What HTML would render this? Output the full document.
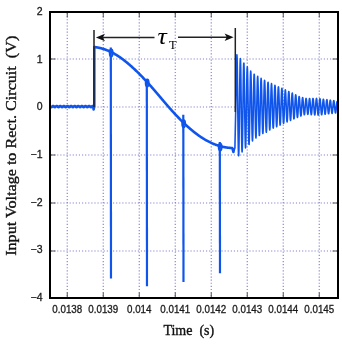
<!DOCTYPE html>
<html><head><meta charset="utf-8"><style>
html,body{margin:0;padding:0;background:#fff;}
svg{display:block;will-change:transform;}
.g{stroke:#8282cf;stroke-width:1.15;stroke-dasharray:1.15 1.95;}
.t{stroke:#555;stroke-width:1;}
.w{fill:none;stroke:#0f55ec;stroke-width:2.6;stroke-linejoin:round;}
.r{fill:none;stroke:#0f55ec;stroke-width:1.6;stroke-linejoin:round;}
.s{stroke:#0f55ec;stroke-width:2.2;}
.e{fill:none;stroke:#0f55ec;stroke-width:1.7;}
.k{stroke:#222;stroke-width:1.5;}
.tau{font-family:"Liberation Serif",serif;font-style:italic;font-size:23.5px;fill:#000;}
.sub{font-family:"Liberation Serif",serif;font-size:12.5px;fill:#000;}
.yl{font-family:"Liberation Sans",sans-serif;font-size:10.5px;text-anchor:end;fill:#1a1a1a;stroke:#1a1a1a;stroke-width:0.3px;}
.xl{font-family:"Liberation Sans",sans-serif;font-size:10.3px;text-anchor:middle;fill:#1a1a1a;stroke:#1a1a1a;stroke-width:0.3px;}
.yt{font-size:14.5px !important;}
.at{font-family:"Liberation Serif",serif;font-size:14px;fill:#111;stroke:#111;stroke-width:0.35px;}
</style></head><body>
<svg width="342" height="344" viewBox="0 0 342 344">
<line x1="67.25" y1="13" x2="67.25" y2="297" class="g"/>
<line x1="103.25" y1="13" x2="103.25" y2="297" class="g"/>
<line x1="139.25" y1="13" x2="139.25" y2="297" class="g"/>
<line x1="175.25" y1="13" x2="175.25" y2="297" class="g"/>
<line x1="211.25" y1="13" x2="211.25" y2="297" class="g"/>
<line x1="247.25" y1="13" x2="247.25" y2="297" class="g"/>
<line x1="283.25" y1="13" x2="283.25" y2="297" class="g"/>
<line x1="319.25" y1="13" x2="319.25" y2="297" class="g"/>
<line x1="51" y1="59.0" x2="337" y2="59.0" class="g"/>
<line x1="51" y1="107.0" x2="337" y2="107.0" class="g"/>
<line x1="51" y1="155.0" x2="337" y2="155.0" class="g"/>
<line x1="51" y1="203.0" x2="337" y2="203.0" class="g"/>
<line x1="51" y1="251.0" x2="337" y2="251.0" class="g"/>
<line x1="67.25" y1="297" x2="67.25" y2="292.5" class="t"/>
<line x1="67.25" y1="13" x2="67.25" y2="17.5" class="t"/>
<line x1="103.25" y1="297" x2="103.25" y2="292.5" class="t"/>
<line x1="103.25" y1="13" x2="103.25" y2="17.5" class="t"/>
<line x1="139.25" y1="297" x2="139.25" y2="292.5" class="t"/>
<line x1="139.25" y1="13" x2="139.25" y2="17.5" class="t"/>
<line x1="175.25" y1="297" x2="175.25" y2="292.5" class="t"/>
<line x1="175.25" y1="13" x2="175.25" y2="17.5" class="t"/>
<line x1="211.25" y1="297" x2="211.25" y2="292.5" class="t"/>
<line x1="211.25" y1="13" x2="211.25" y2="17.5" class="t"/>
<line x1="247.25" y1="297" x2="247.25" y2="292.5" class="t"/>
<line x1="247.25" y1="13" x2="247.25" y2="17.5" class="t"/>
<line x1="283.25" y1="297" x2="283.25" y2="292.5" class="t"/>
<line x1="283.25" y1="13" x2="283.25" y2="17.5" class="t"/>
<line x1="319.25" y1="297" x2="319.25" y2="292.5" class="t"/>
<line x1="319.25" y1="13" x2="319.25" y2="17.5" class="t"/>
<line x1="51" y1="59.0" x2="55.5" y2="59.0" class="t"/>
<line x1="337" y1="59.0" x2="332.5" y2="59.0" class="t"/>
<line x1="51" y1="107.0" x2="55.5" y2="107.0" class="t"/>
<line x1="337" y1="107.0" x2="332.5" y2="107.0" class="t"/>
<line x1="51" y1="155.0" x2="55.5" y2="155.0" class="t"/>
<line x1="337" y1="155.0" x2="332.5" y2="155.0" class="t"/>
<line x1="51" y1="203.0" x2="55.5" y2="203.0" class="t"/>
<line x1="337" y1="203.0" x2="332.5" y2="203.0" class="t"/>
<line x1="51" y1="251.0" x2="55.5" y2="251.0" class="t"/>
<line x1="337" y1="251.0" x2="332.5" y2="251.0" class="t"/>
<path d="M51 107.08 L51.3 107.15 L51.6 107.08 L51.9 106.88 L52.2 106.6 L52.5 106.33 L52.8 106.12 L53.1 106.05 L53.4 106.12 L53.7 106.32 L54 106.6 L54.3 106.87 L54.6 107.08 L54.9 107.15 L55.2 107.08 L55.5 106.88 L55.8 106.6 L56.1 106.33 L56.4 106.12 L56.7 106.05 L57 106.12 L57.3 106.32 L57.6 106.6 L57.9 106.87 L58.2 107.08 L58.5 107.15 L58.8 107.08 L59.1 106.88 L59.4 106.6 L59.7 106.33 L60 106.12 L60.3 106.05 L60.6 106.12 L60.9 106.32 L61.2 106.6 L61.5 106.87 L61.8 107.08 L62.1 107.15 L62.4 107.08 L62.7 106.88 L63 106.6 L63.3 106.33 L63.6 106.12 L63.9 106.05 L64.2 106.12 L64.5 106.32 L64.8 106.6 L65.1 106.87 L65.4 107.08 L65.7 107.15 L66 107.08 L66.3 106.88 L66.6 106.6 L66.9 106.33 L67.2 106.12 L67.5 106.05 L67.8 106.12 L68.1 106.32 L68.4 106.6 L68.7 106.87 L69 107.08 L69.3 107.15 L69.6 107.08 L69.9 106.88 L70.2 106.6 L70.5 106.33 L70.8 106.12 L71.1 106.05 L71.4 106.12 L71.7 106.32 L72 106.6 L72.3 106.87 L72.6 107.08 L72.9 107.15 L73.2 107.08 L73.5 106.88 L73.8 106.6 L74.1 106.33 L74.4 106.12 L74.7 106.05 L75 106.12 L75.3 106.32 L75.6 106.6 L75.9 106.87 L76.2 107.08 L76.5 107.15 L76.8 107.08 L77.1 106.88 L77.4 106.6 L77.7 106.33 L78 106.12 L78.3 106.05 L78.6 106.12 L78.9 106.32 L79.2 106.6 L79.5 106.87 L79.8 107.08 L80.1 107.15 L80.4 107.08 L80.7 106.88 L81 106.6 L81.3 106.33 L81.6 106.12 L81.9 106.05 L82.2 106.12 L82.5 106.32 L82.8 106.6 L83.1 106.87 L83.4 107.08 L83.7 107.15 L84 107.08 L84.3 106.88 L84.6 106.6 L84.9 106.33 L85.2 106.12 L85.5 106.05 L85.8 106.12 L86.1 106.32 L86.4 106.6 L86.7 106.87 L87 107.08 L87.3 107.15 L87.6 107.08 L87.9 106.88 L88.2 106.6 L88.5 106.33 L88.8 106.12 L89.1 106.05 L89.4 106.12 L89.7 106.32 L90 106.6 L90.3 106.87 L90.6 107.08 L90.9 107.15 L91.2 107.08 L91.5 106.88 L91.8 106.6 L92.1 106.33 L92.4 106.12 L92.7 106.05 L93 106.12 L93.3 106.32 L93.6 109.5 L94.3 106 L94.3 47.02 L94.8 47.08 L95.3 47.15 L95.8 47.22 L96.3 47.29 L96.8 47.38 L97.3 47.46 L97.8 47.56 L98.3 47.65 L98.8 47.76 L99.3 47.87 L99.8 47.98 L100.3 48.1 L100.8 48.23 L101.3 48.36 L101.8 48.49 L102.3 48.63 L102.8 48.78 L103.3 48.93 L103.8 49.09 L104.3 49.26 L104.8 49.43 L105.3 49.6 L105.8 49.78 L106.3 49.97 L106.8 50.16 L107.3 50.36 L107.8 50.56 L108.3 50.77 L108.8 50.99 L109.3 51.21 L109.8 51.43 L110.3 51.67 L110.8 51.91 L111.3 52.15 L111.8 52.4 L112.3 52.66 L112.8 52.92 L113.3 53.19 L113.8 53.46 L114.3 53.74 L114.8 54.02 L115.3 54.31 L115.8 54.61 L116.3 54.91 L116.8 55.22 L117.3 55.54 L117.8 55.85 L118.3 56.18 L118.8 56.51 L119.3 56.84 L119.8 57.18 L120.3 57.53 L120.8 57.88 L121.3 58.23 L121.8 58.6 L122.3 58.96 L122.8 59.33 L123.3 59.71 L123.8 60.09 L124.3 60.47 L124.8 60.86 L125.3 61.25 L125.8 61.65 L126.3 62.05 L126.8 62.46 L127.3 62.87 L127.8 63.29 L128.3 63.71 L128.8 64.13 L129.3 64.56 L129.8 64.99 L130.3 65.43 L130.8 65.87 L131.3 66.31 L131.8 66.76 L132.3 67.21 L132.8 67.66 L133.3 68.12 L133.8 68.59 L134.3 69.05 L134.8 69.52 L135.3 69.99 L135.8 70.47 L136.3 70.95 L136.8 71.43 L137.3 71.92 L137.8 72.4 L138.3 72.9 L138.8 73.39 L139.3 73.89 L139.8 74.39 L140.3 74.9 L140.8 75.41 L141.3 75.92 L141.8 76.43 L142.3 76.95 L142.8 77.47 L143.3 77.99 L143.8 78.52 L144.3 79.04 L144.8 79.58 L145.3 80.11 L145.8 80.65 L146.3 81.19 L146.8 81.73 L147.3 82.27 L147.8 82.82 L148.3 83.37 L148.8 83.92 L149.3 84.48 L149.8 85.04 L150.3 85.6 L150.8 86.16 L151.3 86.73 L151.8 87.29 L152.3 87.86 L152.8 88.44 L153.3 89.01 L153.8 89.59 L154.3 90.16 L154.8 90.75 L155.3 91.33 L155.8 91.91 L156.3 92.5 L156.8 93.08 L157.3 93.67 L157.8 94.26 L158.3 94.85 L158.8 95.44 L159.3 96.03 L159.8 96.62 L160.3 97.21 L160.8 97.8 L161.3 98.39 L161.8 98.98 L162.3 99.57 L162.8 100.16 L163.3 100.75 L163.8 101.34 L164.3 101.93 L164.8 102.51 L165.3 103.1 L165.8 103.68 L166.3 104.26 L166.8 104.84 L167.3 105.42 L167.8 106 L168.3 106.57 L168.8 107.15 L169.3 107.72 L169.8 108.28 L170.3 108.85 L170.8 109.41 L171.3 109.97 L171.8 110.52 L172.3 111.08 L172.8 111.63 L173.3 112.18 L173.8 112.72 L174.3 113.27 L174.8 113.81 L175.3 114.34 L175.8 114.88 L176.3 115.41 L176.8 115.94 L177.3 116.46 L177.8 116.98 L178.3 117.5 L178.8 118.02 L179.3 118.53 L179.8 119.04 L180.3 119.55 L180.8 120.05 L181.3 120.55 L181.8 121.04 L182.3 121.54 L182.8 122.02 L183.3 122.51 L183.8 122.99 L184.3 123.47 L184.8 123.94 L185.3 124.41 L185.8 124.88 L186.3 125.34 L186.8 125.8 L187.3 126.26 L187.8 126.71 L188.3 127.16 L188.8 127.6 L189.3 128.04 L189.8 128.48 L190.3 128.91 L190.8 129.34 L191.3 129.76 L191.8 130.18 L192.3 130.6 L192.8 131.01 L193.3 131.42 L193.8 131.82 L194.3 132.22 L194.8 132.61 L195.3 133 L195.8 133.38 L196.3 133.76 L196.8 134.14 L197.3 134.51 L197.8 134.88 L198.3 135.24 L198.8 135.6 L199.3 135.95 L199.8 136.29 L200.3 136.64 L200.8 136.98 L201.3 137.31 L201.8 137.64 L202.3 137.96 L202.8 138.28 L203.3 138.59 L203.8 138.9 L204.3 139.2 L204.8 139.5 L205.3 139.79 L205.8 140.08 L206.3 140.36 L206.8 140.64 L207.3 140.91 L207.8 141.18 L208.3 141.44 L208.8 141.7 L209.3 141.95 L209.8 142.2 L210.3 142.44 L210.8 142.67 L211.3 142.91 L211.8 143.13 L212.3 143.35 L212.8 143.57 L213.3 143.78 L213.8 143.99 L214.3 144.19 L214.8 144.38 L215.3 144.58 L215.8 144.76 L216.3 144.94 L216.8 145.12 L217.3 145.29 L217.8 145.45 L218.3 145.61 L218.8 145.77 L219.3 145.92 L219.8 146.06 L220.3 146.2 L220.8 146.33 L221.3 146.46 L221.8 146.59 L222.3 146.71 L222.8 146.82 L223.3 146.93 L223.8 147.03 L224.3 147.13 L224.8 147.22 L225.3 147.31 L225.8 147.39 L226.3 147.47 L226.8 147.54 L227.3 147.61 L227.8 147.67 L228.3 147.72 L228.8 147.78 L229.3 147.82 L229.8 147.86 L230.3 147.9 L230.8 147.93 L231.3 147.95 L231.8 147.97 L232.3 147.99 L233.4 152 L234.2 148" class="w"/>
<path d="M234.2 148 L234.9 148 L235.1 138.66 L235.3 129.32 L235.5 119.98 L235.7 110.64 L235.9 101.3 L236.1 91.96 L236.3 82.62 L236.5 73.28 L236.7 63.94 L236.9 54.71 L237.1 58.23 L237.3 67.89 L237.5 82.44 L237.7 99.96 L237.9 118.18 L238.1 134.73 L238.3 147.49 L238.5 154.82 L238.7 155.8 L238.9 150.23 L239.1 138.9 L239.3 123.46 L239.5 105.96 L239.7 88.68 L239.9 73.87 L240.1 63.42 L240.3 58.65 L240.5 60.11 L240.7 67.56 L240.9 79.97 L241.1 95.68 L241.3 112.59 L241.5 128.5 L241.7 141.35 L241.9 149.5 L242.1 151.95 L242.3 148.43 L242.5 139.5 L242.7 126.35 L242.9 110.71 L243.1 94.66 L243.3 80.28 L243.5 69.43 L243.7 63.47 L243.9 63.14 L244.1 68.41 L244.3 78.55 L244.5 92.19 L244.7 107.51 L244.9 122.52 L245.1 135.27 L245.3 144.12 L245.5 147.98 L245.7 146.4 L245.9 139.65 L246.1 128.68 L246.3 114.95 L246.5 100.27 L246.7 86.55 L246.9 75.57 L247.1 68.73 L247.3 66.88 L247.5 70.22 L247.7 78.25 L247.9 89.9 L248.1 103.61 L248.3 117.59 L248.5 130.02 L248.7 139.31 L248.9 144.29 L249.1 144.37 L249.3 139.59 L249.5 130.58 L249.7 118.62 L249.9 105.31 L250.1 92.38 L250.3 81.51 L250.5 74.09 L250.7 71.04 L250.9 72.68 L251.1 78.72 L251.3 88.31 L251.5 100.23 L251.7 112.87 L251.9 124.6 L252.1 133.89 L252.3 139.56 L252.5 140.9 L252.7 137.79 L252.9 130.7 L253.1 120.59 L253.3 108.75 L253.5 96.75 L253.7 86.14 L253.9 78.29 L254.1 74.19 L254.3 74.34 L254.5 78.67 L254.7 86.59 L254.9 97.03 L255.1 108.61 L255.3 119.81 L255.5 129.18 L255.7 135.52 L255.9 138.03 L256.1 136.45 L256.3 131.01 L256.5 122.44 L256.7 111.88 L256.9 100.73 L257.1 90.43 L257.3 82.33 L257.5 77.45 L257.7 76.41 L257.9 79.28 L258.1 85.66 L258.3 94.72 L258.5 105.24 L258.7 115.85 L258.9 125.16 L259.1 131.98 L259.3 135.45 L259.5 135.14 L259.7 131.12 L259.9 123.94 L260.1 114.56 L260.3 104.23 L260.5 94.28 L260.7 86.01 L260.9 80.49 L261.1 78.4 L261.3 79.99 L261.5 85 L261.7 92.77 L261.9 102.27 L262.1 112.25 L262.3 121.4 L262.5 128.55 L262.7 132.78 L262.9 133.55 L263.1 130.82 L263.3 124.96 L263.5 116.74 L263.7 107.24 L263.9 97.71 L264.1 89.39 L264.3 83.36 L264.5 80.38 L264.7 80.82 L264.9 84.61 L265.1 91.24 L265.3 99.82 L265.5 109.21 L265.7 118.2 L265.9 125.62 L266.1 130.52 L266.3 132.28 L266.5 130.7 L266.7 125.97 L266.9 118.78 L267.1 110.1 L267.3 101.06 L267.5 92.84 L267.7 86.49 L267.9 82.83 L268.1 82.29 L268.3 84.9 L268.5 90.31 L268.7 97.78 L268.9 106.33 L269.1 114.83 L269.3 122.17 L269.5 127.41 L269.7 129.88 L269.9 129.3 L270.1 125.78 L270.3 119.77 L270.5 112.08 L270.7 103.71 L270.9 95.76 L271.1 89.26 L271.3 85.04 L271.5 83.64 L271.7 85.21 L271.9 89.52 L272.1 95.99 L272.3 103.77 L272.5 111.82 L272.7 119.11 L272.9 124.68 L273.1 127.84 L273.3 128.18 L273.5 125.68 L273.7 120.7 L273.9 113.91 L274.1 106.19 L274.3 98.56 L274.5 92.01 L274.7 87.38 L274.9 85.26 L275.1 85.91 L275.3 89.2 L275.5 94.7 L275.7 101.66 L275.9 109.18 L276.1 116.26 L276.3 121.99 L276.5 125.64 L276.7 126.75 L276.9 125.2 L277.1 121.22 L277.3 115.33 L277.5 108.33 L277.7 101.13 L277.9 94.68 L278.1 89.79 L278.3 87.1 L278.5 86.93 L278.7 89.28 L278.9 93.82 L279.1 99.94 L279.3 106.83 L279.5 113.59 L279.7 119.33 L279.9 123.33 L280.1 125.08 L280.3 124.37 L280.5 121.32 L280.7 116.35 L280.9 110.12 L281.1 103.45 L281.3 97.21 L281.5 92.21 L281.7 89.09 L281.9 88.23 L282.1 89.72 L282.3 93.34 L282.5 98.61 L282.7 104.81 L282.9 111.14 L283.1 116.77 L283.3 120.97 L283.5 123.22 L283.7 123.24 L283.9 121.05 L284.1 116.97 L284.3 111.53 L284.5 105.46 L284.7 99.56 L284.9 94.59 L285.1 91.18 L285.3 89.76 L285.5 90.49 L285.7 93.26 L285.9 97.67 L286.1 103.15 L286.3 108.96 L286.5 114.35 L286.7 118.62 L286.9 121.24 L287.1 121.88 L287.3 120.48 L287.5 117.24 L287.7 112.62 L287.9 107.22 L288.1 101.76 L288.3 96.94 L288.5 93.4 L288.7 91.56 L288.9 91.66 L289.1 93.65 L289.3 97.25 L289.5 101.99 L289.7 107.22 L289.9 112.27 L290.1 116.48 L290.3 119.31 L290.5 120.43 L290.7 119.7 L290.9 117.25 L291.1 113.41 L291.3 108.71 L291.5 103.76 L291.7 99.21 L291.9 95.65 L292.1 93.53 L292.3 93.1 L292.5 94.4 L292.7 97.23 L292.9 101.21 L293.1 105.81 L293.3 110.42 L293.5 114.44 L293.7 117.37 L293.9 118.83 L294.1 118.67 L294.3 116.92 L294.5 113.83 L294.7 109.84 L294.9 105.46 L295.1 101.28 L295.3 97.83 L295.5 95.55 L295.7 94.72 L295.9 95.43 L296.1 97.56 L296.3 100.81 L296.5 104.75 L296.7 108.85 L296.9 112.58 L297.1 115.46 L297.3 117.14 L297.5 117.42 L297.7 116.28 L297.9 113.9 L298.1 110.6 L298.3 106.84 L298.5 103.1 L298.7 99.87 L298.9 97.57 L299.1 96.47 L299.3 96.7 L299.5 98.2 L299.7 100.77 L299.9 104.03 L300.1 107.57 L300.3 110.92 L300.5 113.66 L300.7 115.45 L300.9 116.06 L301.1 115.43 L301.3 113.65 L301.5 110.98 L301.7 107.77 L301.9 104.44 L302.1 101.42 L302.3 99.1 L302.5 97.78 L302.7 97.6 L302.9 98.57 L303.1 100.55 L303.3 103.26 L303.5 106.34 L303.7 109.39 L303.9 112 L304.1 113.85 L304.3 114.7 L304.5 114.46 L304.7 113.18 L304.9 111.03 L305.1 108.31 L305.3 105.38 L305.5 102.61 L305.7 100.37 L305.9 98.92 L306.1 98.4 L306.3 98.92 L306.5 100.4 L306.7 102.66 L306.9 105.41 L307.1 108.28 L307.3 110.91 L307.5 112.95 L307.7 114.13 L307.9 114.31 L308.1 113.45 L308.3 111.66 L308.5 109.19 L308.7 106.35 L308.9 103.51 L309.1 101.04 L309.3 99.28 L309.5 98.45 L309.7 98.66 L309.9 99.89 L310.1 101.98 L310.3 104.67 L310.5 107.59 L310.7 110.38 L310.9 112.67 L311.1 114.16 L311.3 114.65 L311.5 114.08 L311.7 112.53 L311.9 110.19 L312.1 107.37 L312.3 104.44 L312.5 101.78 L312.7 99.74 L312.9 98.59 L313.1 98.49 L313.3 99.44 L313.5 101.33 L313.7 103.91 L313.9 106.86 L314.1 109.78 L314.3 112.29 L314.5 114.08 L314.7 114.9 L314.9 114.64 L315.1 113.35 L315.3 111.18 L315.5 108.42 L315.7 105.43 L315.9 102.6 L316.1 100.3 L316.3 98.84 L316.5 98.41 L316.7 99.06 L316.9 100.71 L317.1 103.16 L317.3 106.09 L317.5 109.11 L317.7 111.83 L317.9 113.9 L318.1 115.02 L318.3 115.05 L318.5 114.01 L318.7 112.04 L318.9 109.39 L319.1 106.43 L319.3 103.54 L319.5 101.09 L319.7 99.4 L319.9 98.69 L320.1 99.03 L320.3 100.39 L320.5 102.57 L320.7 105.3 L320.9 108.2 L321.1 110.9 L321.3 113.06 L321.5 114.39 L321.7 114.73 L321.9 114.03 L322.1 112.41 L322.3 110.07 L322.5 107.33 L322.7 104.54 L322.9 102.07 L323.1 100.23 L323.3 99.27 L323.5 99.3 L323.7 100.3 L323.9 102.16 L324.1 104.6 L324.3 107.33 L324.5 109.97 L324.7 112.19 L324.9 113.69 L325.1 114.3 L325.3 113.94 L325.5 112.65 L325.7 110.62 L325.9 108.12 L326.1 105.47 L326.3 103.02 L326.5 101.09 L326.7 99.92 L326.9 99.67 L327.1 100.35 L327.3 101.87 L327.5 104.03 L327.7 106.55 L327.9 109.09 L328.1 111.32 L328.3 112.96 L328.5 113.79 L328.7 113.72 L328.9 112.76 L329.1 111.05 L329.3 108.8 L329.5 106.32 L329.7 103.94 L329.9 101.96 L330.1 100.63 L330.3 100.13 L330.5 100.51 L330.7 101.71 L330.9 103.59 L331.1 105.87 L331.3 108.28 L331.5 110.48 L331.7 112.2 L331.9 113.22 L332.1 113.41 L332.3 112.75 L332.5 111.34 L332.7 109.37 L332.9 107.09 L333.1 104.8 L333.3 102.81 L333.5 101.37 L333.7 100.66 L333.9 100.77 L334.1 101.68 L334.3 103.26 L334.5 105.31 L334.7 107.54 L334.9 109.68 L335.1 111.44 L335.3 112.6 L335.5 113.01 L335.7 112.63 L335.9 111.51 L336.1 109.81 L336.3 107.75 L336.5 105.6 L336.7 103.64 L336.9 102.13 L337.1 101.26" class="r"/>
<line x1="110.8" y1="47.5" x2="111" y2="278.4" class="s"/>
<ellipse cx="111.2" cy="53" rx="1.6" ry="3.6" class="e"/>
<line x1="146.8" y1="79.7" x2="147" y2="286.3" class="s"/>
<ellipse cx="147.2" cy="82.95" rx="1.6" ry="3.6" class="e"/>
<line x1="183.3" y1="114.8" x2="183.5" y2="281.9" class="s"/>
<ellipse cx="183.7" cy="123.7" rx="1.6" ry="3.6" class="e"/>
<line x1="219.8" y1="142" x2="220" y2="273.2" class="s"/>
<ellipse cx="220.2" cy="147.12" rx="1.6" ry="3.6" class="e"/>
<rect x="50" y="12" width="288" height="286" fill="none" stroke="#000" stroke-width="2"/>
<line x1="94" y1="30" x2="94" y2="107" class="k"/>
<line x1="235.3" y1="28" x2="235.3" y2="112" class="k"/>
<line x1="103" y1="37.4" x2="154.5" y2="37.4" class="k"/>
<line x1="178" y1="37.2" x2="227" y2="37.2" class="k"/>
<path d="M95.9 37.5 L105 33.8 L102.8 37.5 L105 41.2 Z" fill="#111"/>
<path d="M233.6 37.3 L224.6 33.6 L226.8 37.3 L224.6 41 Z" fill="#111"/>
<text transform="translate(157.6 43.8) scale(1.1 1)" class="tau">τ</text>
<text x="169" y="49.3" class="sub">T</text>
<text x="42.5" y="15" class="yl">2</text>
<text x="42.5" y="62.67" class="yl">1</text>
<text x="42.5" y="110.34" class="yl">0</text>
<text x="42.5" y="158.01" class="yl">−1</text>
<text x="42.5" y="205.68" class="yl">−2</text>
<text x="42.5" y="253.35" class="yl">−3</text>
<text x="42.5" y="301.02" class="yl">−4</text>
<text transform="translate(67.25 313.2) scale(0.95 1)" class="xl">0.0138</text>
<text transform="translate(103.25 313.2) scale(0.95 1)" class="xl">0.0139</text>
<text transform="translate(139.25 313.2) scale(0.95 1)" class="xl">0.014</text>
<text transform="translate(175.25 313.2) scale(0.95 1)" class="xl">0.0141</text>
<text transform="translate(211.25 313.2) scale(0.95 1)" class="xl">0.0142</text>
<text transform="translate(247.25 313.2) scale(0.95 1)" class="xl">0.0143</text>
<text transform="translate(283.25 313.2) scale(0.95 1)" class="xl">0.0144</text>
<text transform="translate(319.25 313.2) scale(0.95 1)" class="xl">0.0145</text>
<text x="163.4" y="335.3" class="at">Time&#160;&#160;(s)</text>
<text transform="translate(16.0 145.8) rotate(-90) scale(1.112 1)" x="0" y="0" class="at yt" text-anchor="middle">Input Voltage to Rect. Circuit&#160;&#160;(V)</text>
</svg>
</body></html>
